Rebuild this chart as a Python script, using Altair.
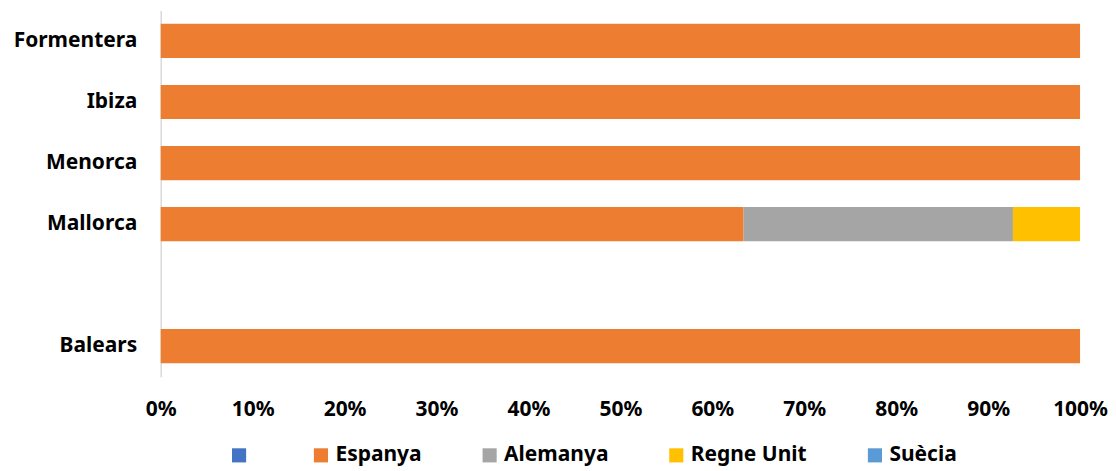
import altair as alt
import pandas as pd

islands = ["Formentera", "Ibiza", "Menorca", "Mallorca", " ", "Balears"]
series = [" ", "Espanya", "Alemanya", "Regne Unit", "Suècia"]
colors = ["#4472C4", "#ED7D31", "#A5A5A5", "#FFC000", "#5B9BD5"]

blank_vals = [0, 0, 0, 0, None, 0]
espanya_vals = [100, 100, 100, 63.4, None, 100]
alemanya_vals = [0, 0, 0, 29.3, None, 0]
regne_vals = [0, 0, 0, 7.3, None, 0]
suecia_vals = [0, 0, 0, 0, None, 0]

all_vals = [blank_vals, espanya_vals, alemanya_vals, regne_vals, suecia_vals]
rows = []
for si, (s, vals) in enumerate(zip(series, all_vals)):
    for isl, v in zip(islands, vals):
        if v is not None:
            rows.append({"illa": isl, "serie": s, "valor": v, "ordre": si})
df = pd.DataFrame(rows)

FONT = "Noto Sans"

chart = alt.Chart(df).mark_bar().encode(
    y=alt.Y("illa:N", sort=islands,
            scale=alt.Scale(domain=islands, paddingInner=0.44, paddingOuter=0.22),
            axis=alt.Axis(title=None, ticks=False, grid=False, domainColor="#D9D9D9",
                          domainWidth=1.5, labelPadding=24, labelFontSize=21,
                          labelFont=FONT, labelFontWeight="bold", labelColor="#000000",
                          minExtent=153, maxExtent=153)),
    x=alt.X("valor:Q", stack="normalize",
            scale=alt.Scale(domain=[0, 1], nice=False),
            axis=alt.Axis(title=None, format="%", values=[i / 10 for i in range(11)],
                          ticks=False, grid=False, domain=False, labelPadding=22,
                          labelFontSize=21, labelFont=FONT, labelFontWeight="bold",
                          labelColor="#000000", labelFlush=False)),
    color=alt.Color("serie:N", sort=series,
                    scale=alt.Scale(domain=series, range=colors),
                    legend=alt.Legend(title=None, orient="none", direction="horizontal",
                                      legendX=68, legendY=435, symbolType="square",
                                      symbolSize=200, symbolStrokeWidth=0,
                                      labelFontSize=21, labelFont=FONT,
                                      labelFontWeight="bold", labelColor="#000000",
                                      columnPadding=57, labelOffset=4)),
    order=alt.Order("ordre:Q"),
).properties(
    width=921, height=367,
    padding={"left": 0, "top": 2, "right": 0, "bottom": 0},
).configure_view(stroke=None)

chart.save("out.html", embed_options={"renderer": "svg", "actions": False})
